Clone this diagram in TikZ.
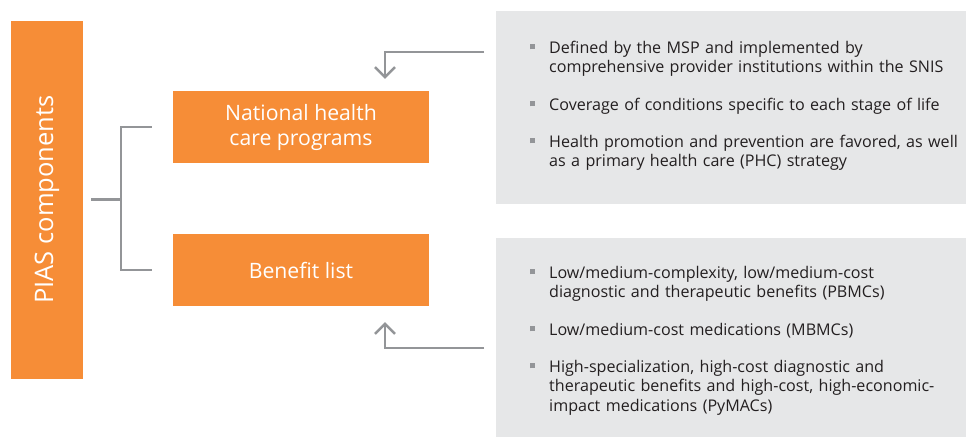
\documentclass[tikz,border=0pt]{standalone}
\usepackage{fontspec}
\setmainfont{Open Sans}
\usetikzlibrary{arrows.meta}

\definecolor{PiasOrange}{HTML}{F68D37}
\definecolor{NoteGray}{HTML}{E6E7E8}
\definecolor{LinkGray}{HTML}{939598}
\definecolor{NoteText}{HTML}{231F20}

\newcommand{\sqitem}{\llap{\textcolor{LinkGray}{\rule[0.22em]{5pt}{5pt}}\hspace{14pt}}}

\tikzset{
  compbox/.style={fill=PiasOrange, text=white, inner sep=0pt, align=center,
    font=\fontsize{21.2}{25}\selectfont},
  notebox/.style={fill=NoteGray, inner sep=0pt, anchor=north west},
  itemtext/.style={anchor=base west, inner sep=0pt, text width=410pt, align=left,
    text=NoteText, font=\fontsize{16.1}{19.5}\selectfont},
  link/.style={draw=LinkGray, line width=2.5pt},
  feed/.style={link, -{Straight Barb[length=10pt,width=20pt,line width=2.5pt]}}
}

\begin{document}
\begin{tikzpicture}[x=1pt, y=-1pt]
      \useasboundingbox (0,0) rectangle (966,437);

      % left column
      \node[compbox, rotate=90, minimum width=358pt, minimum height=72pt,
            font=\fontsize{25.5}{28}\selectfont] (pias) at (47,199.5) {PIAS components};
      \node[compbox, minimum width=256pt, minimum height=72pt] (nhcp) at (301,127)
            {National health\\care programs};
      \node[compbox, minimum width=256pt, minimum height=72pt] (benefit) at (301,270)
            {Benefit list};

      % grey notes
      \node[notebox, minimum width=470pt, minimum height=193pt] (topnote) at (496,11) {};
      \node[notebox, minimum width=470pt, minimum height=199pt] (botnote) at (496,238) {};

      \node[itemtext] (p1) at (549,53)
            {\sqitem Defined by the MSP and implemented by\\comprehensive provider institutions within the SNIS};
      \node[itemtext] (p2) at (549,110)
            {\sqitem Coverage of conditions specific to each stage of life};
      \node[itemtext] (p3) at (549,147)
            {\sqitem Health promotion and prevention are favored, as well\\as a primary health care (PHC) strategy};

      \node[itemtext] (b1) at (549,278)
            {\sqitem Low/medium-complexity, low/medium-cost\\diagnostic and therapeutic benefits (PBMCs)};
      \node[itemtext] (b2) at (549,335)
            {\sqitem Low/medium-cost medications (MBMCs)};
      \node[itemtext] (b3) at (549,372)
            {\sqitem High-specialization, high-cost diagnostic and\\therapeutic benefits and high-cost, high-economic-\\impact medications (PyMACs)};

      % bracket
      \draw[link] ([xshift=8pt]pias.south) -- ([xshift=38pt]pias.south) coordinate (fork);
      \draw[link] ([xshift=-21pt]nhcp.west) -| (fork) |- ([xshift=-21pt]benefit.west);

      % feeds from the notes
      \coordinate (topfeed) at ([xshift=-12pt]topnote.west |- 0,52);
      \coordinate (botfeed) at ([xshift=-12pt]botnote.west |- 0,348);
      \draw[feed] (topfeed) -| ([xshift=84pt,yshift=12pt]nhcp.north);
      \draw[feed] (botfeed) -| ([xshift=84pt,yshift=-16pt]benefit.south);
\end{tikzpicture}
\end{document}
